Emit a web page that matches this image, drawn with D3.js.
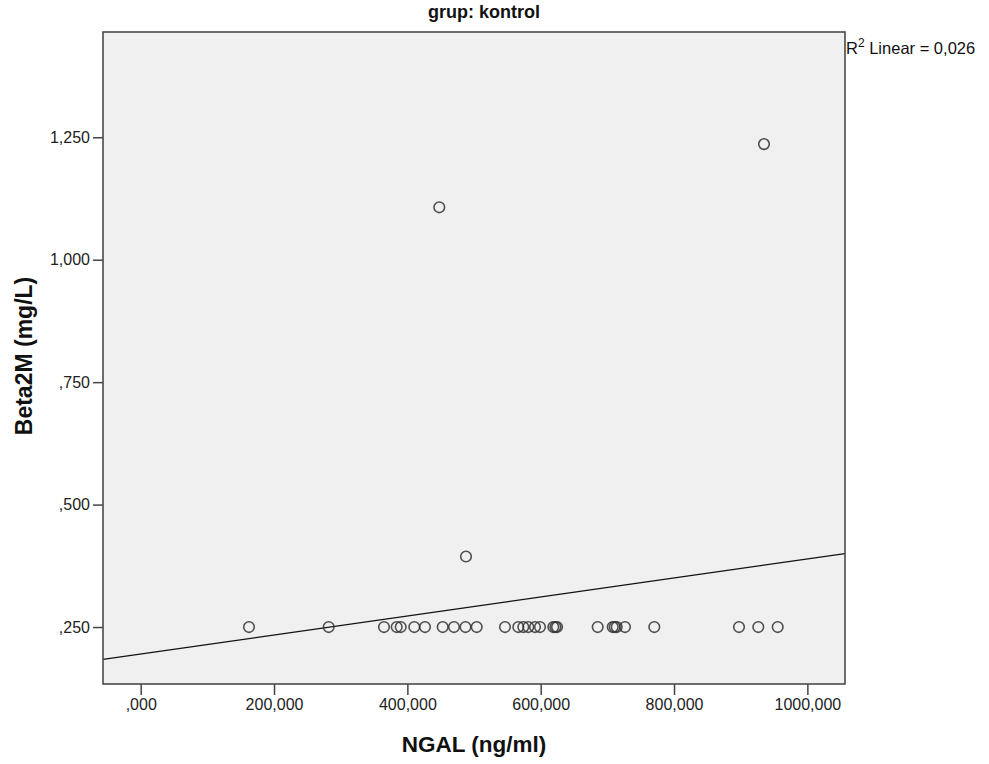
<!DOCTYPE html>
<html>
<head>
<meta charset="utf-8">
<script src="https://cdn.jsdelivr.net/npm/d3@7.9.0/dist/d3.min.js"></script>
<style>
  html, body { margin: 0; padding: 0; background: #fff; }
  svg { display: block; font-family: Arial, "Liberation Sans", sans-serif; }
</style>
</head>
<body>
<svg id="chart" width="989" height="764"></svg>
<script>
// NGAL (ng/ml) vs Beta2M (mg/L), group "kontrol"
const ngal = [
  162450, 282000, 364950, 384000, 390000, 410400, 426450, 453000, 469950,
  487200, 504000, 546450, 566400, 573900, 581400, 591450, 598950, 618900,
  622000, 624500, 685500, 708000, 711000, 714000, 726450, 770400, 897450,
  926400, 955500,
  447900, 487950, 934950
];
const beta2m = [
  0.25, 0.25, 0.25, 0.25, 0.25, 0.25, 0.25, 0.25, 0.25,
  0.25, 0.25, 0.25, 0.25, 0.25, 0.25, 0.25, 0.25, 0.25,
  0.25, 0.25, 0.25, 0.25, 0.25, 0.25, 0.25, 0.25, 0.25,
  0.25, 0.25,
  1.107, 0.394, 1.236
];
// fit line
const fitIntercept = 0.195;
const fitSlope = 1.94e-7;
const r2Label = '0,026';

const xTicks = [0, 200000, 400000, 600000, 800000, 1000000];
const xTickLabels = [',000', '200,000', '400,000', '600,000', '800,000', '1000,000'];
const yTicks = [0.25, 0.5, 0.75, 1.0, 1.25];
const yTickLabels = [',250', ',500', ',750', '1,000', '1,250'];

const xDomain = [-56550, 1056450];
const yDomain = [0.1337, 1.4649];

const margin = { left: 103, top: 32, right: 144, bottom: 80 };
const width = 989, height = 764;

const svg = d3.select('#chart');

const x = d3.scaleLinear().domain(xDomain).range([margin.left, width - margin.right]);
const y = d3.scaleLinear().domain(yDomain).range([height - margin.bottom, margin.top]);

// plot background
svg.append('rect')
  .attr('x', x.range()[0])
  .attr('y', y.range()[1])
  .attr('width', x.range()[1] - x.range()[0])
  .attr('height', y.range()[0] - y.range()[1])
  .attr('fill', '#f0f0f0');

// fit line
svg.append('clipPath').attr('id', 'plotclip')
  .append('rect')
  .attr('x', x.range()[0]).attr('y', y.range()[1])
  .attr('width', x.range()[1] - x.range()[0])
  .attr('height', y.range()[0] - y.range()[1]);

const line = d3.line()
  .x(d => x(d))
  .y(d => y(fitIntercept + fitSlope * d));

svg.append('path')
  .datum(xDomain)
  .attr('d', line)
  .attr('clip-path', 'url(#plotclip)')
  .attr('fill', 'none')
  .attr('stroke', '#111')
  .attr('stroke-width', 1.3);

// points
const points = ngal.map((v, i) => ({ x: v, y: beta2m[i] }));
svg.append('g')
  .selectAll('circle')
  .data(points)
  .join('circle')
  .attr('cx', d => x(d.x))
  .attr('cy', d => y(d.y))
  .attr('r', 5.3)
  .attr('fill', 'none')
  .attr('stroke', '#333')
  .attr('stroke-opacity', 0.85)
  .attr('stroke-width', 1.6);

// axes
const xAxis = d3.axisBottom(x)
  .tickValues(xTicks)
  .tickFormat((d, i) => xTickLabels[i])
  .tickSize(11)
  .tickSizeOuter(0)
  .tickPadding(4);
const yAxis = d3.axisLeft(y)
  .tickValues(yTicks)
  .tickFormat((d, i) => yTickLabels[i])
  .tickSize(10)
  .tickSizeOuter(0)
  .tickPadding(3);

const gx = svg.append('g')
  .attr('transform', `translate(0,${y.range()[0]})`)
  .call(xAxis);
const gy = svg.append('g')
  .attr('transform', `translate(${x.range()[0]},0)`)
  .call(yAxis);

[gx, gy].forEach(g => {
  g.select('.domain').remove();
  g.selectAll('.tick line').attr('stroke', '#444').attr('stroke-width', 1.5);
  g.selectAll('.tick text')
    .attr('fill', '#222')
    .style('font-size', '16px')
    .style('font-family', 'Arial, "Liberation Sans", sans-serif');
});

// frame
svg.append('rect')
  .attr('x', x.range()[0])
  .attr('y', y.range()[1])
  .attr('width', x.range()[1] - x.range()[0])
  .attr('height', y.range()[0] - y.range()[1])
  .attr('fill', 'none')
  .attr('stroke', '#4a4a4a')
  .attr('stroke-width', 1.6);

// title
svg.append('text')
  .attr('x', 484)
  .attr('y', 18)
  .attr('text-anchor', 'middle')
  .style('font-size', '18px')
  .style('font-weight', 'bold')
  .attr('fill', '#111')
  .text('grup: kontrol');

// axis titles
svg.append('text')
  .attr('x', (x.range()[0] + x.range()[1]) / 2)
  .attr('y', 752)
  .attr('text-anchor', 'middle')
  .style('font-size', '22.5px')
  .style('font-weight', 'bold')
  .attr('fill', '#111')
  .text('NGAL (ng/ml)');

svg.append('text')
  .attr('transform', `translate(32,${(y.range()[0] + y.range()[1]) / 2 - 2}) rotate(-90)`)
  .attr('text-anchor', 'middle')
  .style('font-size', '23px')
  .style('font-weight', 'bold')
  .attr('fill', '#111')
  .text('Beta2M (mg/L)');

// R² label
const r2 = svg.append('text')
  .attr('x', x.range()[1] + 1)
  .attr('y', 54)
  .style('font-size', '16.5px')
  .attr('fill', '#111');
r2.append('tspan').text('R');
r2.append('tspan').attr('dy', -7).style('font-size', '12px').text('2');
r2.append('tspan').attr('dy', 7).text(` Linear = ${r2Label}`);
</script>
</body>
</html>
